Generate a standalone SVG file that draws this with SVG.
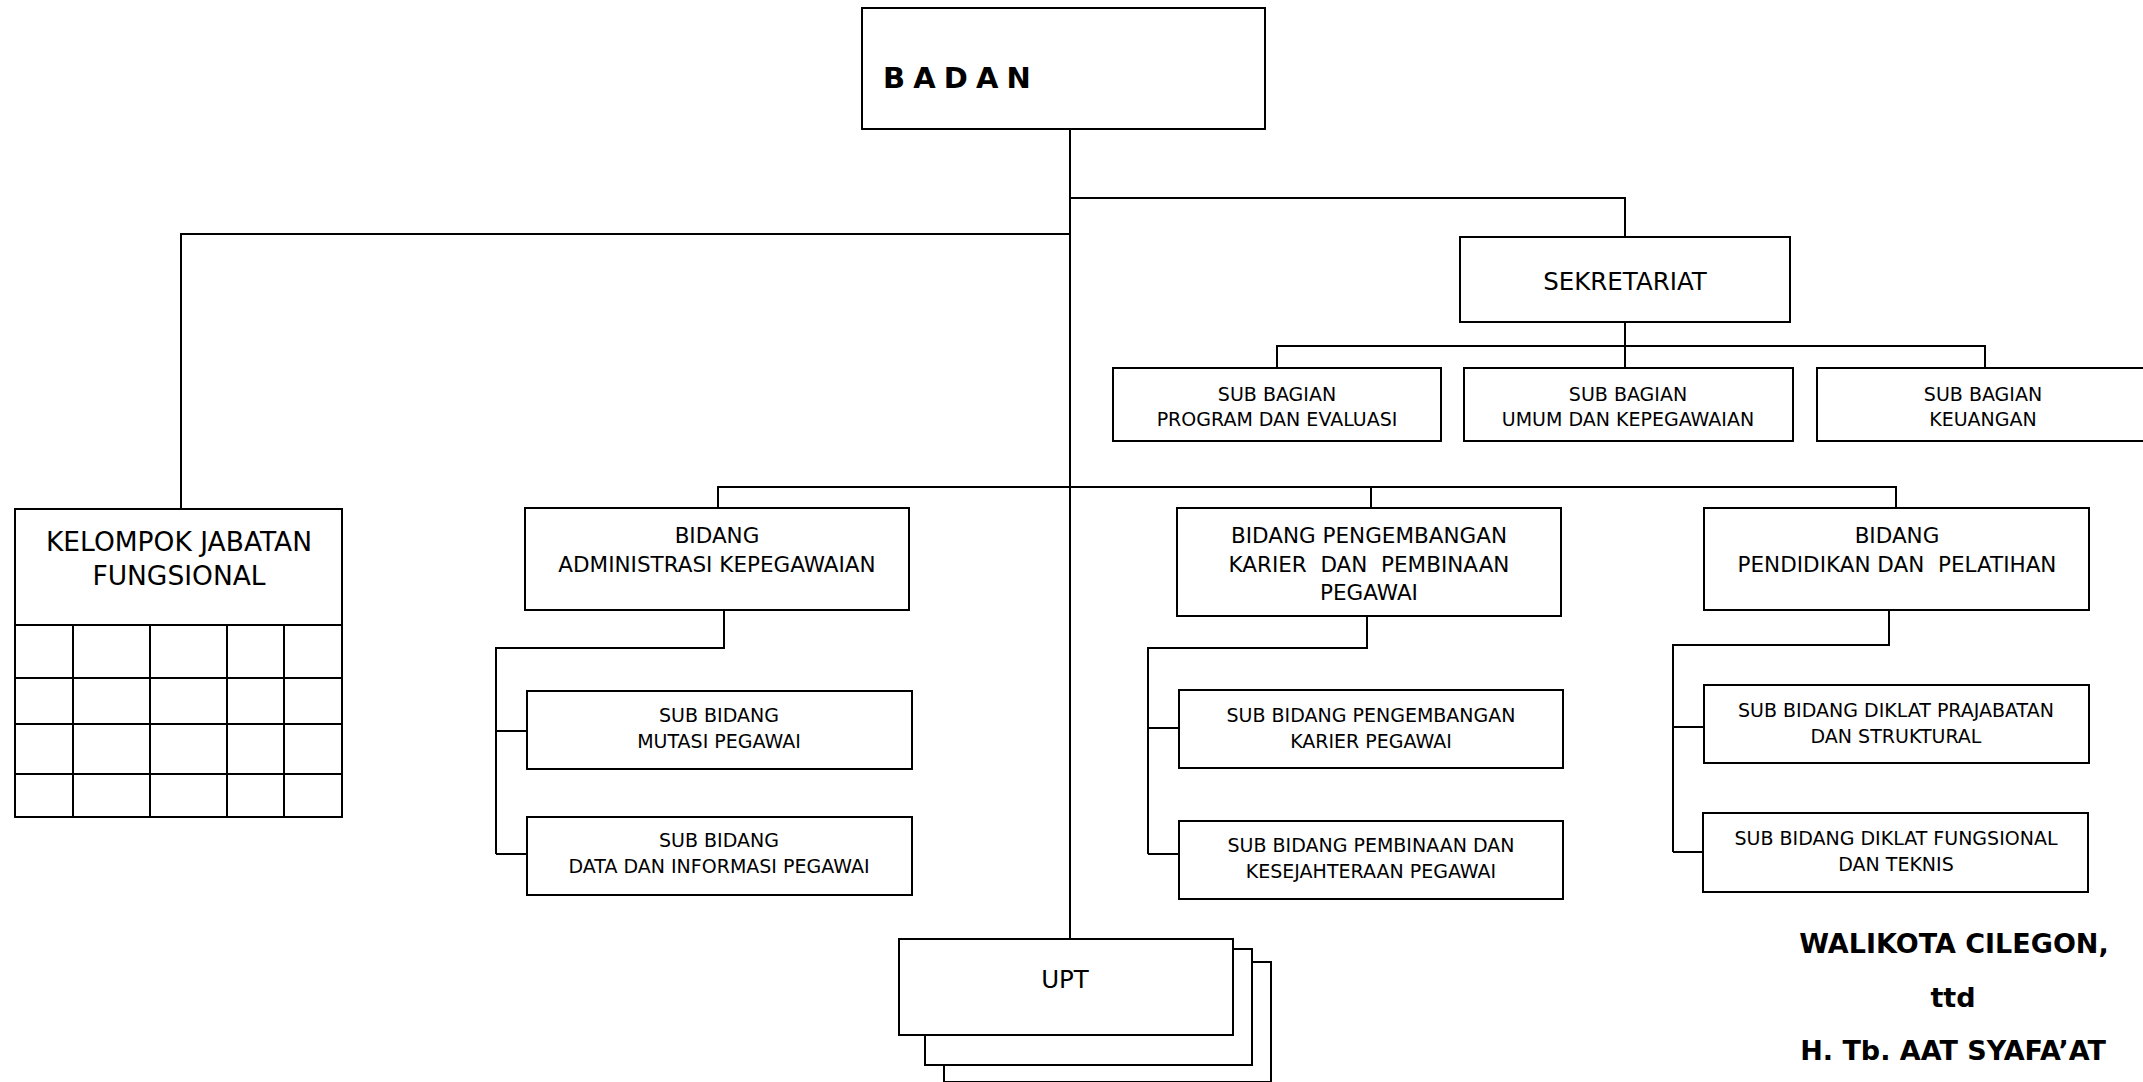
<svg xmlns="http://www.w3.org/2000/svg" width="2143" height="1082" viewBox="0 0 2143 1082">
<style>
.box{fill:#fff;stroke:#000;stroke-width:2}
.ln{fill:none;stroke:#000;stroke-width:2}
text{font-family:"DejaVu Sans","Verdana",sans-serif;fill:#000;text-anchor:middle;white-space:pre}
.t19{font-size:19px}
.t22{font-size:21.5px}
.t24{font-size:24.5px}
.t26{font-size:26.5px}
.sig{font-weight:bold;font-size:27px}
</style>
<rect width="2143" height="1082" fill="#fff"/>
<g id="connectors">
<path class="ln" d="M1070 129V939"/>
<path class="ln" d="M1071 198H1625V237"/>
<path class="ln" d="M1070 234H181V509"/>
<path class="ln" d="M1625 322V368M1277 368V346H1985V368"/>
<path class="ln" d="M718 508V487H1896V508M1371 487V508"/>
<path class="ln" d="M724 610V648H496V854M496 731H527M496 854H527"/>
<path class="ln" d="M1367 616V648H1148V854M1148 728H1179M1148 854H1179"/>
<path class="ln" d="M1889 610V645H1673V852M1673 727H1704M1673 852H1703"/>
</g>
<g id="badan">
<rect class="box" x="862" y="8" width="403" height="121"/>
<text x="883" y="88" style="text-anchor:start;font-weight:bold;font-size:29px;letter-spacing:-1px">B A D A N</text>
</g>
<g id="sekretariat">
<rect class="box" x="1460" y="237" width="330" height="85"/>
<text class="t24" x="1625" y="290">SEKRETARIAT</text>
</g>
<g id="sub-program">
<rect class="box" x="1113" y="368" width="328" height="73"/>
<text class="t19" x="1277" y="401">SUB BAGIAN</text>
<text class="t19" x="1277" y="426">PROGRAM DAN EVALUASI</text>
</g>
<g id="sub-umum">
<rect class="box" x="1464" y="368" width="329" height="73"/>
<text class="t19" x="1628" y="401">SUB BAGIAN</text>
<text class="t19" x="1628" y="426">UMUM DAN KEPEGAWAIAN</text>
</g>
<g id="sub-keuangan">
<rect class="box" x="1817" y="368" width="340" height="73"/>
<text class="t19" x="1983" y="401">SUB BAGIAN</text>
<text class="t19" x="1983" y="426">KEUANGAN</text>
</g>
<g id="kelompok">
<rect class="box" x="15" y="509" width="327" height="308"/>
<path class="ln" d="M15 625H342M15 678H342M15 724H342M15 774H342M73 625V817M150 625V817M227 625V817M284 625V817"/>
<text class="t26" x="179" y="551">KELOMPOK JABATAN</text>
<text class="t26" x="179" y="585">FUNGSIONAL</text>
</g>
<g id="bidang-admin">
<rect class="box" x="525" y="508" width="384" height="102"/>
<text class="t22" x="717" y="543">BIDANG</text>
<text class="t22" x="717" y="572">ADMINISTRASI KEPEGAWAIAN</text>
</g>
<g id="sub-mutasi">
<rect class="box" x="527" y="691" width="385" height="78"/>
<text class="t19" x="719" y="722">SUB BIDANG</text>
<text class="t19" x="719" y="748">MUTASI PEGAWAI</text>
</g>
<g id="sub-data">
<rect class="box" x="527" y="817" width="385" height="78"/>
<text class="t19" x="719" y="847">SUB BIDANG</text>
<text class="t19" x="719" y="873">DATA DAN INFORMASI PEGAWAI</text>
</g>
<g id="bidang-karier">
<rect class="box" x="1177" y="508" width="384" height="108"/>
<text class="t22" x="1369" y="543">BIDANG PENGEMBANGAN</text>
<text class="t22" x="1369" y="572">KARIER  DAN  PEMBINAAN</text>
<text class="t22" x="1369" y="600">PEGAWAI</text>
</g>
<g id="sub-karier">
<rect class="box" x="1179" y="690" width="384" height="78"/>
<text class="t19" x="1371" y="722">SUB BIDANG PENGEMBANGAN</text>
<text class="t19" x="1371" y="748">KARIER PEGAWAI</text>
</g>
<g id="sub-pembinaan">
<rect class="box" x="1179" y="821" width="384" height="78"/>
<text class="t19" x="1371" y="852">SUB BIDANG PEMBINAAN DAN</text>
<text class="t19" x="1371" y="878">KESEJAHTERAAN PEGAWAI</text>
</g>
<g id="bidang-diklat">
<rect class="box" x="1704" y="508" width="385" height="102"/>
<text class="t22" x="1897" y="543">BIDANG</text>
<text class="t22" x="1897" y="572">PENDIDIKAN DAN  PELATIHAN</text>
</g>
<g id="sub-prajabatan">
<rect class="box" x="1704" y="685" width="385" height="78"/>
<text class="t19" x="1896" y="717">SUB BIDANG DIKLAT PRAJABATAN</text>
<text class="t19" x="1896" y="743">DAN STRUKTURAL</text>
</g>
<g id="sub-fungsional">
<rect class="box" x="1703" y="813" width="385" height="79"/>
<text class="t19" x="1896" y="845">SUB BIDANG DIKLAT FUNGSIONAL</text>
<text class="t19" x="1896" y="871">DAN TEKNIS</text>
</g>
<g id="upt">
<rect class="box" x="944" y="962" width="327" height="120"/>
<rect class="box" x="925" y="949" width="327" height="116"/>
<rect class="box" x="899" y="939" width="334" height="96"/>
<text class="t24" x="1065" y="988">UPT</text>
</g>
<g id="signature">
<text class="sig" x="1954" y="953">WALIKOTA CILEGON,</text>
<text class="sig" x="1953" y="1007">ttd</text>
<text class="sig" x="1953" y="1060">H. Tb. AAT SYAFA’AT</text>
</g>
</svg>
